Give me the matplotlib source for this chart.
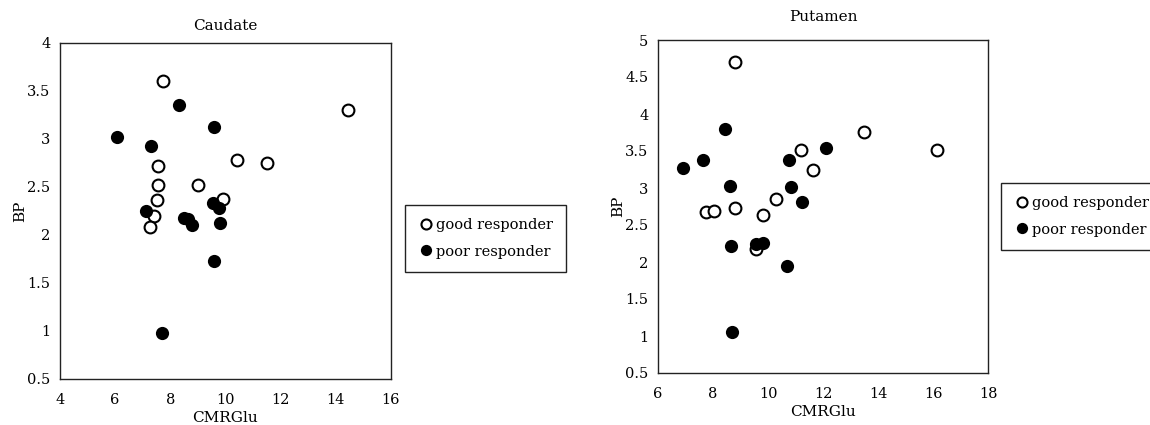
import matplotlib
matplotlib.use("Agg")
from matplotlib import pyplot as plt

# Caudate: good responders (open) / poor responders (filled)
caud_good_x = [7.75, 14.45, 10.4, 11.5, 7.55, 7.55, 9.0, 7.5, 9.9, 7.4, 7.25]
caud_good_y = [3.6, 3.3, 2.78, 2.75, 2.72, 2.52, 2.52, 2.36, 2.38, 2.2, 2.08]
caud_poor_x = [8.3, 9.6, 6.05, 7.3, 7.1, 8.5, 8.65, 8.8, 9.55, 9.75, 9.8, 9.6, 7.7]
caud_poor_y = [3.35, 3.13, 3.02, 2.93, 2.25, 2.18, 2.17, 2.1, 2.33, 2.28, 2.13, 1.73, 0.98]

# Putamen
put_good_x = [8.8, 13.5, 16.15, 11.2, 11.65, 10.3, 8.8, 7.75, 8.05, 9.8, 9.55]
put_good_y = [4.7, 3.76, 3.52, 3.51, 3.24, 2.85, 2.73, 2.67, 2.69, 2.63, 2.18]
put_poor_x = [8.45, 6.9, 7.65, 8.6, 10.75, 10.85, 12.1, 11.25, 8.65, 9.55, 9.8, 10.7, 8.7]
put_poor_y = [3.8, 3.27, 3.38, 3.03, 3.38, 3.01, 3.54, 2.81, 2.21, 2.24, 2.26, 1.94, 1.06]

caud_xticks = [4, 6, 8, 10, 12, 14, 16]
caud_yticks = [0.5, 1, 1.5, 2, 2.5, 3, 3.5, 4]
put_xticks = [6, 8, 10, 12, 14, 16, 18]
put_yticks = [0.5, 1, 1.5, 2, 2.5, 3, 3.5, 4, 4.5, 5]

plt.rcParams['font.family'] = ['DejaVu Serif']
plt.rcParams['font.size'] = 10.5

fig = plt.figure(figsize=(11.5, 4.25), dpi=100)


def panel(rect, title, gx, gy, px, py, xticks, yticks, leg_anchor, title_pad):
    ax = fig.add_axes(rect)
    ax.plot(gx, gy, 'o', ms=8.5, mfc='white', mec='black', mew=1.5, label='good responder')
    ax.plot(px, py, 'o', ms=9.5, mfc='black', mec='black', mew=0, label='poor responder')
    ax.set_xlim(xticks[0], xticks[-1])
    ax.set_ylim(yticks[0], yticks[-1])
    ax.set_xticks(xticks)
    ax.set_yticks(yticks)
    ax.set_xticklabels([str(t) for t in xticks])
    ax.set_yticklabels([('%g' % t) for t in yticks])
    ax.tick_params(axis='x', length=0, pad=10)
    ax.tick_params(axis='y', length=0, pad=7)
    for s in ax.spines.values():
        s.set_linewidth(1.0)
        s.set_color('#222222')
    ax.set_title(title, fontsize=11, pad=title_pad)
    ax.set_xlabel('CMRGlu', fontsize=11, labelpad=3)
    ax.set_ylabel('BP', fontsize=11, labelpad=0)
    fig.legend(*ax.get_legend_handles_labels(), loc='upper left',
               bbox_to_anchor=leg_anchor, bbox_transform=fig.transFigure,
               borderaxespad=0, fancybox=False, edgecolor='#222222', framealpha=1,
               handletextpad=0.1, handlelength=1.1, borderpad=0.9,
               labelspacing=0.85, fontsize=10.5, markerscale=0.85)
    return ax


panel([60 / 1150, 46 / 425, 331 / 1150, 336 / 425], 'Caudate',
      caud_good_x, caud_good_y, caud_poor_x, caud_poor_y,
      caud_xticks, caud_yticks, (405 / 1150, 1 - 205 / 425), 9.5)
panel([658 / 1150, 52 / 425, 330 / 1150, 333 / 425], 'Putamen',
      put_good_x, put_good_y, put_poor_x, put_poor_y,
      put_xticks, put_yticks, (1001 / 1150, 1 - 183 / 425), 13.5)

fig.savefig('out.png', dpi=100)
